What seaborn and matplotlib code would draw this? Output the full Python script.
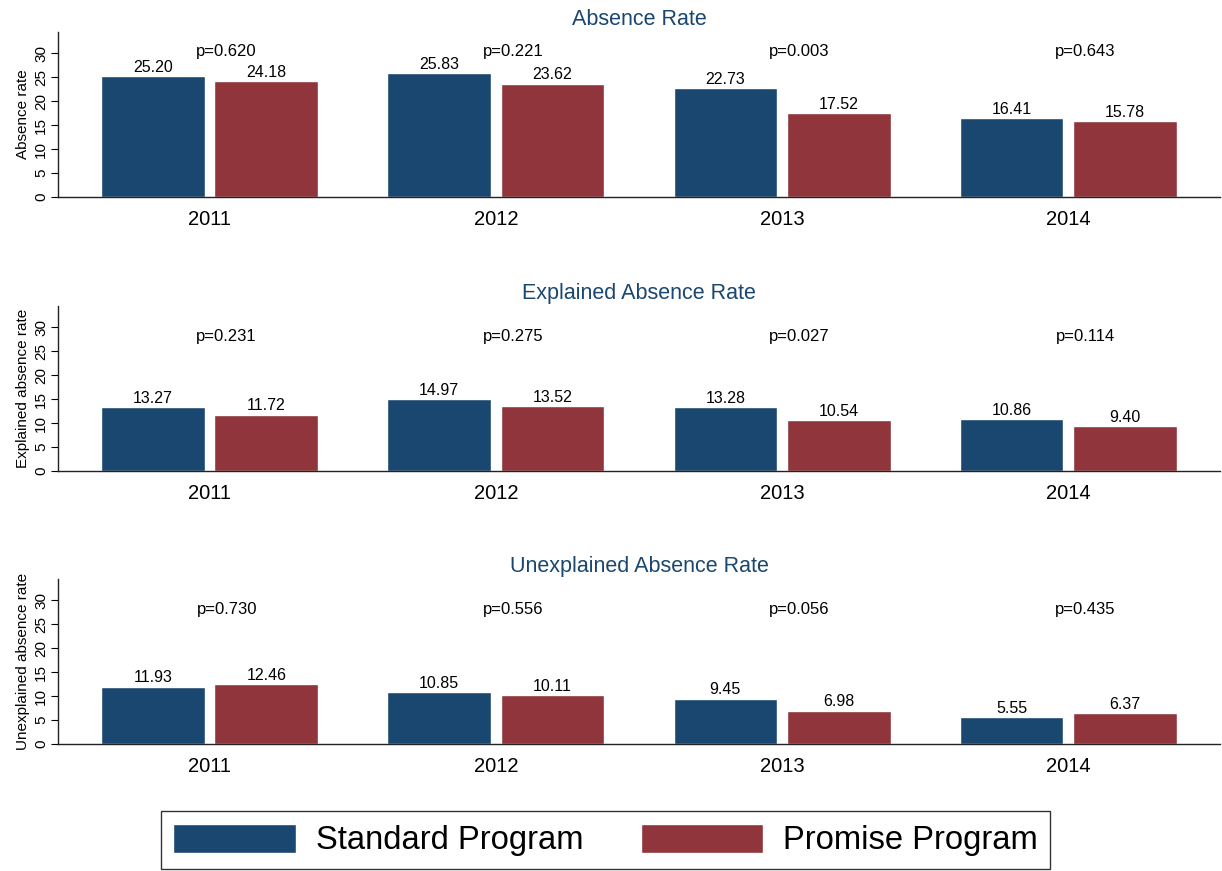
import pandas as pd
import seaborn as sns
import matplotlib.pyplot as plt
from matplotlib.patches import Patch

years = ['2011', '2012', '2013', '2014']
programs = ['Standard Program', 'Promise Program']

absence_standard = [25.20, 25.83, 22.73, 16.41]
absence_promise = [24.18, 23.62, 17.52, 15.78]
absence_p = ['p=0.620', 'p=0.221', 'p=0.003', 'p=0.643']

explained_standard = [13.27, 14.97, 13.28, 10.86]
explained_promise = [11.72, 13.52, 10.54, 9.40]
explained_p = ['p=0.231', 'p=0.275', 'p=0.027', 'p=0.114']

unexplained_standard = [11.93, 10.85, 9.45, 5.55]
unexplained_promise = [12.46, 10.11, 6.98, 6.37]
unexplained_p = ['p=0.730', 'p=0.556', 'p=0.056', 'p=0.435']

titles = ['Absence Rate', 'Explained Absence Rate', 'Unexplained Absence Rate']
ylabels = ['Absence rate', 'Explained absence rate', 'Unexplained absence rate']

azul = '#1a476f'
rojo = '#90353b'


def armar_df(standard, promise):
    filas = []
    for i, y in enumerate(years):
        filas.append((y, programs[0], standard[i]))
        filas.append((y, programs[1], promise[i]))
    return pd.DataFrame(filas, columns=['year', 'program', 'rate'])


def main():
    sns.set_style('ticks')
    plt.rcParams['font.family'] = ['Liberation Sans', 'DejaVu Sans']
    plt.rcParams['text.color'] = 'black'
    plt.rcParams['axes.labelcolor'] = 'black'
    plt.rcParams['xtick.color'] = 'black'
    plt.rcParams['ytick.color'] = 'black'

    fig = plt.figure(figsize=(12.22, 8.71), dpi=100)

    paneles = [
        (armar_df(absence_standard, absence_promise), absence_p, 0.7738, 30.3),
        (armar_df(explained_standard, explained_promise), explained_p, 0.4592, 28.0),
        (armar_df(unexplained_standard, unexplained_promise), unexplained_p, 0.1458, 28.0),
    ]

    for k, (df, pvals, bottom, py) in enumerate(paneles):
        ax = fig.add_axes([0.0475, bottom, 0.951, 0.1895])
        sns.barplot(data=df, x='year', y='rate', hue='program',
                    palette=[azul, rojo], width=0.793, gap=0.088,
                    legend=False, ax=ax, errorbar=None, saturation=1)
        for cont in ax.containers:
            ax.bar_label(cont, fmt='%.2f', padding=1, fontsize=11.5)
        for i, txt in enumerate(pvals):
            ax.text(i + 0.06, py, txt, ha='center', va='center', fontsize=12)

        ax.set_ylim(0, 34.4)
        ax.set_xlim(-0.529, 3.53)
        ax.set_yticks([0, 5, 10, 15, 20, 25, 30])
        ax.set_yticklabels(['0', '5', '10', '15', '20', '25', '30'],
                           rotation=90, va='center', fontsize=11)
        ax.tick_params(axis='x', length=0, labelsize=14.5, pad=9.5)
        ax.tick_params(axis='y', length=5, width=0.8, pad=2)
        ax.set_xlabel('')
        ax.set_ylabel(ylabels[k], fontsize=11, labelpad=3)
        ax.set_title(titles[k], color=azul, fontsize=15.5, pad=5)
        sns.despine(ax=ax)
        for s in ['left', 'bottom']:
            ax.spines[s].set_color('#222222')
            ax.spines[s].set_linewidth(1.0)

    handles = [Patch(facecolor=azul, label=programs[0]),
               Patch(facecolor=rojo, label=programs[1])]
    leg = fig.legend(handles=handles, loc='center', bbox_to_anchor=(0.4955, 0.0356),
                     ncol=2, fontsize=23.6, frameon=True, fancybox=False,
                     edgecolor='black', handlelength=3.75, handleheight=1.0,
                     columnspacing=1.75, borderpad=0.38, handletextpad=0.6)
    leg.get_frame().set_linewidth(1.0)

    plt.savefig('out.png', dpi=100)


if __name__ == '__main__':
    main()
